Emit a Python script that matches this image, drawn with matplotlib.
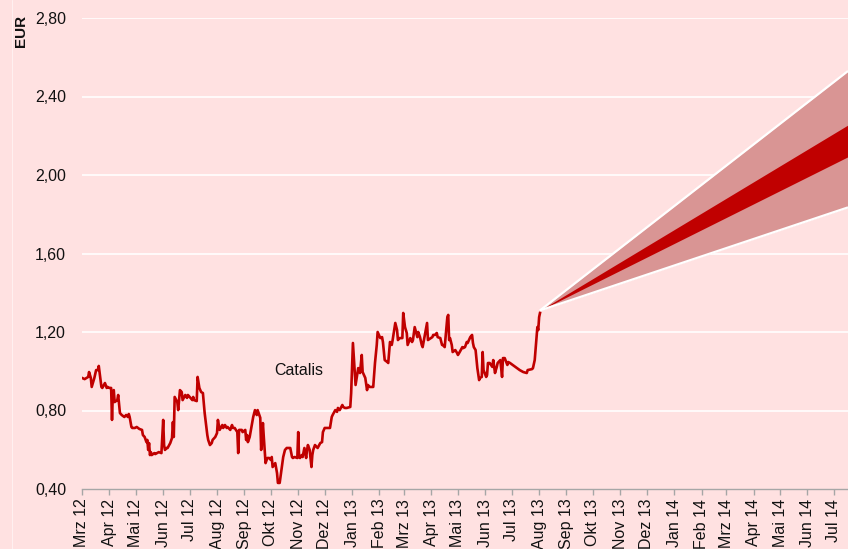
import numpy as np
import pandas as pd
import matplotlib
matplotlib.use("Agg")
import matplotlib.pyplot as plt
from matplotlib.lines import Line2D

# ---------------- data ----------------
start_date = "2012-03-01"
price_days = [
    0, 3, 7, 8, 10, 11, 14, 16, 18, 19, 22, 23, 26, 28, 29, 31, 33, 34, 35, 36, 37, 40, 41, 43, 45, 48, 50, 52, 53, 54,
    56, 57, 60, 62, 65, 68, 69, 71, 73, 74, 75, 76, 77, 78, 79, 82, 83, 85, 87, 90, 92, 93, 94, 96, 97, 100, 102, 103,
    104, 105, 108, 109, 111, 113, 114, 117, 119, 120, 122, 125, 126, 127, 130, 131, 133, 135, 137, 139, 142, 143, 145,
    147, 148, 151, 153, 154, 156, 159, 160, 162, 164, 165, 168, 170, 171, 173, 176, 177, 178, 181, 182, 185, 186, 187,
    188, 190, 193, 194, 196, 198, 199, 202, 203, 205, 206, 208, 210, 212, 214, 215, 216, 219, 221, 222, 224, 227, 228,
    230, 232, 236, 238, 239, 241, 244, 245, 246, 247, 249, 250, 252, 254, 255, 256, 258, 260, 261, 262, 264, 266, 267,
    270, 272, 273, 275, 278, 281, 283, 284, 287, 289, 290, 292, 295, 296, 298, 300, 304, 305, 307, 310, 313, 315, 317,
    318, 321, 323, 324, 326, 330, 332, 334, 335, 338, 340, 341, 343, 346, 347, 349, 351, 352, 355, 357, 358, 360, 363,
    364, 366, 368, 369, 372, 374, 375, 377, 380, 381, 383, 385, 386, 389, 391, 392, 397, 398, 400, 402, 403, 406, 408,
    409, 411, 414, 415, 416, 417, 419, 420, 423, 425, 426, 428, 431, 432, 434, 436, 437, 440, 442, 443, 444, 446, 448,
    450, 451, 453, 454, 455, 458, 459, 460, 462, 465, 466, 468, 470, 471, 474, 476, 477, 479, 482, 483, 485, 488, 493,
    496, 500, 504, 505, 510, 511, 513, 516, 517, 518, 519,
]
price_values = [
    0.966, 0.960, 0.971, 0.996, 0.966, 0.920, 0.966, 1.006, 1.006, 1.027, 0.920, 0.915, 0.940, 0.915, 0.920, 0.915,
    0.915, 0.752, 0.894, 0.904, 0.843, 0.853, 0.879, 0.787, 0.777, 0.767, 0.777, 0.767, 0.782, 0.767,
    0.716, 0.711, 0.711, 0.716, 0.706, 0.701, 0.675, 0.665, 0.639, 0.650, 0.599, 0.634, 0.573, 0.588, 0.573, 0.583,
    0.578, 0.583, 0.588, 0.583, 0.752, 0.624, 0.599, 0.609, 0.609, 0.634, 0.660, 0.741,
    0.665, 0.869, 0.843, 0.802, 0.904, 0.894, 0.853, 0.879, 0.864, 0.879, 0.869, 0.853, 0.869, 0.853, 0.848, 0.971,
    0.915, 0.894, 0.889, 0.787, 0.675, 0.650, 0.624,
    0.634, 0.650, 0.665, 0.685, 0.752, 0.701, 0.726, 0.711, 0.726, 0.711, 0.716, 0.701, 0.726, 0.711, 0.711, 0.690,
    0.583, 0.701, 0.701, 0.690, 0.701, 0.650, 0.675,
    0.639, 0.665, 0.741, 0.767, 0.802, 0.777, 0.802, 0.763, 0.599, 0.736, 0.665, 0.532, 0.558, 0.558, 0.548, 0.563,
    0.512, 0.532, 0.481, 0.431, 0.431, 0.532, 0.563,
    0.599, 0.609, 0.609, 0.563, 0.558, 0.563, 0.558, 0.690, 0.563, 0.558, 0.573, 0.563, 0.609, 0.558, 0.599, 0.624,
    0.599, 0.512, 0.573, 0.599, 0.624, 0.614, 0.609,
    0.634, 0.639, 0.690, 0.711, 0.711, 0.711, 0.767, 0.777, 0.802, 0.793, 0.813, 0.802, 0.828, 0.818, 0.813, 0.813,
    0.818, 0.889, 1.144, 0.930, 1.016, 0.991, 1.083,
    0.996, 0.966, 0.904, 0.930, 0.920, 0.920, 1.042, 1.134, 1.200, 1.169, 1.174, 1.149, 1.057, 1.047, 1.042, 1.149,
    1.134, 1.159, 1.246, 1.210, 1.159, 1.169, 1.169,
    1.297, 1.225, 1.195, 1.134, 1.169, 1.149, 1.159, 1.225, 1.174, 1.200, 1.174, 1.134, 1.123, 1.195, 1.246, 1.159,
    1.174, 1.185, 1.185, 1.195, 1.174, 1.169, 1.134,
    1.134, 1.123, 1.276, 1.287, 1.159, 1.169, 1.134, 1.098, 1.108, 1.093, 1.083, 1.098, 1.123, 1.118, 1.123, 1.149,
    1.144, 1.174, 1.185, 1.144, 1.123, 1.108, 1.016,
    0.955, 0.966, 0.971, 1.098, 1.006, 0.971, 0.981, 1.042, 1.042, 1.022, 1.057, 0.991, 1.022, 1.042, 1.057, 0.971,
    1.067, 1.067, 1.032, 1.047, 1.042, 1.032, 1.016,
    1.006, 0.996, 0.991, 1.006, 1.011, 1.016, 1.057, 1.225, 1.210, 1.276, 1.297,
]

# forecast fan (start / end of projection)
fan_days = [519, 868]
fan_outer_upper = [1.31, 2.53]
fan_inner_upper = [1.31, 2.255]
fan_inner_lower = [1.31, 2.093]
fan_outer_lower = [1.31, 1.835]

month_labels = [
    "Mrz 12", "Apr 12", "Mai 12", "Jun 12", "Jul 12", "Aug 12", "Sep 12", "Okt 12", "Nov 12", "Dez 12",
    "Jan 13", "Feb 13", "Mrz 13", "Apr 13", "Mai 13", "Jun 13", "Jul 13", "Aug 13", "Sep 13", "Okt 13",
    "Nov 13", "Dez 13", "Jan 14", "Feb 14", "Mrz 14", "Apr 14", "Mai 14", "Jun 14", "Jul 14",
]
y_ticks = [0.40, 0.80, 1.20, 1.60, 2.00, 2.40, 2.80]
y_tick_labels = ["0,40", "0,80", "1,20", "1,60", "2,00", "2,40", "2,80"]
series_label = "Catalis"
unit_label = "EUR"

# ---------------- plot ----------------
plt.rcParams["font.family"] = ["Liberation Sans", "DejaVu Sans"]

BG = "#FFE1E1"
RED = "#C00000"
LIGHT = "#D99594"

base = pd.Timestamp(start_date)
dates = base + pd.to_timedelta(price_days, unit="D")
fdates = base + pd.to_timedelta(fan_days, unit="D")

fig = plt.figure(figsize=(8.48, 5.49), dpi=100, facecolor=BG)
ax = fig.add_axes([82 / 848, 60 / 549, 1 - 82 / 848, (489 - 18) / 549])
ax.set_facecolor(BG)

ax.fill_between(fdates, fan_outer_lower, fan_outer_upper, color=LIGHT, lw=0, zorder=2)
ax.fill_between(fdates, fan_inner_lower, fan_inner_upper, color=RED, lw=0, zorder=3)
ax.plot(fdates, fan_outer_upper, color="white", lw=1.6, zorder=4, solid_capstyle="butt")
ax.plot(fdates, fan_outer_lower, color="white", lw=1.6, zorder=4, solid_capstyle="butt")

ax.plot(dates, price_values, color=RED, lw=1.9, zorder=5, solid_joinstyle="round")

ax.text(base + pd.Timedelta(days=246), 1.006, series_label, ha="center", va="center",
        fontsize=11.5, color="#111111", zorder=6)

month_ticks = pd.date_range(start_date, periods=len(month_labels), freq="MS")
ax.set_xticks(month_ticks)
ax.set_xticklabels(month_labels, rotation=90, fontsize=11.5, color="#111111")
ax.set_xlim(base, base + pd.Timedelta(days=868))

ax.set_yticks(y_ticks)
ax.set_yticklabels(y_tick_labels, fontsize=11.5, color="#111111")
ax.set_ylim(0.40, 2.80)

ax.tick_params(axis="y", length=0, pad=11.5)
ax.tick_params(axis="x", length=4, width=1, color="#A6A6A6", pad=3)

for sp in ["top", "right", "left"]:
    ax.spines[sp].set_visible(False)
ax.spines["bottom"].set_color("#A6A6A6")
ax.spines["bottom"].set_linewidth(1.0)

for yv in y_ticks[1:]:
    ax.axhline(yv, color="white", lw=1.2, zorder=1)

fig.text(21.5 / 848, 1 - 31 / 549, unit_label, rotation=90, ha="center", va="center",
         fontsize=11, fontweight="bold", color="#111111")

fig.add_artist(Line2D([11.5 / 848, 11.5 / 848], [0, 1], transform=fig.transFigure,
                      color="white", lw=0.6, alpha=0.6))

fig.savefig("out.png", dpi=100, facecolor=BG)
